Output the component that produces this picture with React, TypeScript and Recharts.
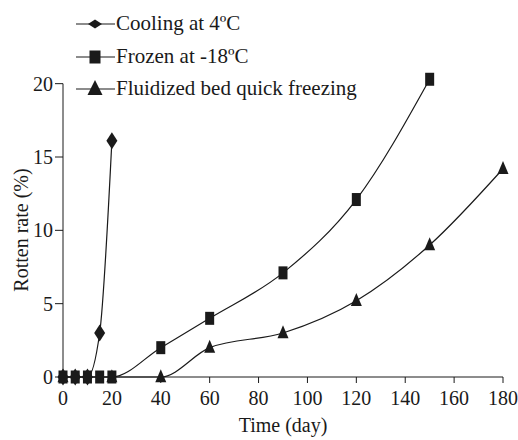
import React from 'react';
import { LineChart, Line, XAxis, YAxis, ReferenceLine, Label } from 'recharts';

// Days sampled for each storage method
const coolingDays = [0, 5, 10, 15, 20];
const coolingRate = [0, 0, 0, 3, 16.1];

const frozenDays = [0, 5, 10, 15, 20, 40, 60, 90, 120, 150];
const frozenRate = [0, 0, 0, 0, 0, 2, 4, 7.1, 12.1, 20.3];

const fluidDays = [0, 20, 40, 60, 90, 120, 150, 180];
const fluidRate = [0, 0, 0, 2, 3, 5.2, 9, 14.2];

const xTicks = [0, 20, 40, 60, 80, 100, 120, 140, 160, 180];
const yTicks = [0, 5, 10, 15, 20];

const toPoints = (days: number[], rate: number[]) =>
  days.map((d, i) => ({ day: d, rate: rate[i] }));

const coolingData = toPoints(coolingDays, coolingRate);
const frozenData = toPoints(frozenDays, frozenRate);
const fluidData = toPoints(fluidDays, fluidRate);

const FONT = '"Liberation Serif", serif';
const INK = '#1a1a1a';

// marker shapes, w/h are the full box size
const Diamond = ({ cx, cy, w = 11, h = 17 }: any) => (
  <polygon
    points={`${cx},${cy - h / 2} ${cx + w / 2},${cy} ${cx},${cy + h / 2} ${cx - w / 2},${cy}`}
    fill={INK}
  />
);

const Square = ({ cx, cy, w = 9, h = 13 }: any) => (
  <rect x={cx - w / 2} y={cy - h / 2} width={w} height={h} fill={INK} />
);

const Triangle = ({ cx, cy, w = 11, h = 13 }: any) => (
  <polygon
    points={`${cx},${cy - h * 0.6} ${cx + w / 2},${cy + h * 0.4} ${cx - w / 2},${cy + h * 0.4}`}
    fill={INK}
  />
);

const legendRows = [
  { name: 'Cooling at 4ºC', Icon: Diamond, w: 14, h: 9 },
  { name: 'Frozen at -18ºC', Icon: Square, w: 11, h: 13 },
  { name: 'Fluidized bed quick freezing', Icon: Triangle, w: 15, h: 15 },
];

const App: React.FC = () => {
  return (
    <div style={{ position: 'absolute', left: 0, top: 0, width: 518, height: 440, background: '#fff' }}>
      <LineChart
        width={518}
        height={440}
        margin={{ top: 69, right: 15, left: 13, bottom: 0 }}
      >
        <XAxis
          type="number"
          dataKey="day"
          domain={[0, 180]}
          ticks={xTicks}
          allowDuplicatedCategory={false}
          height={63}
          stroke={INK}
          tickSize={6}
          tickMargin={8}
          tick={{ fill: INK, fontSize: 20, fontFamily: FONT }}
        >
          <Label
            content={() => (
              <text x={283} y={432} textAnchor="middle" fill={INK} fontSize={20} fontFamily={FONT}>
                Time (day)
              </text>
            )}
          />
        </XAxis>
        <YAxis
          type="number"
          dataKey="rate"
          domain={[0, 21]}
          ticks={yTicks}
          width={50}
          axisLine={false}
          stroke={INK}
          tickSize={8}
          tickMargin={2}
          tick={{ fill: INK, fontSize: 20, fontFamily: FONT }}
        >
          <Label
            content={() => (
              <text
                x={28}
                y={230}
                transform="rotate(-90, 28, 230)"
                textAnchor="middle"
                fill={INK}
                fontSize={20}
                fontFamily={FONT}
              >
                Rotten rate (%)
              </text>
            )}
          />
        </YAxis>
        <ReferenceLine
          segment={[{ x: 0, y: 0 }, { x: 0, y: 20 }]}
          stroke={INK}
          ifOverflow="visible"
        />
        <Line
          data={fluidData}
          dataKey="rate"
          type="monotone"
          stroke={INK}
          strokeWidth={1.2}
          dot={<Triangle />}
          activeDot={false}
          isAnimationActive={false}
        />
        <Line
          data={coolingData}
          dataKey="rate"
          type="monotone"
          stroke={INK}
          strokeWidth={1.2}
          dot={<Diamond />}
          activeDot={false}
          isAnimationActive={false}
        />
        <Line
          data={frozenData}
          dataKey="rate"
          type="monotone"
          stroke={INK}
          strokeWidth={1.2}
          dot={<Square />}
          activeDot={false}
          isAnimationActive={false}
        />
      </LineChart>
      <div style={{ position: 'absolute', left: 76, top: 8, fontFamily: FONT, fontSize: 21, color: INK, lineHeight: 1 }}>
        {legendRows.map(({ name, Icon, w, h }) => (
          <div key={name} style={{ position: 'relative', height: 32.5 }}>
            <svg width={40} height={20} style={{ position: 'absolute', left: 0, top: 6 }}>
              <line x1={0} y1={10} x2={39} y2={10} stroke={INK} strokeWidth={1.2} />
              <Icon cx={19} cy={10} w={w} h={h} />
            </svg>
            <span style={{ position: 'absolute', left: 40, top: 5, whiteSpace: 'nowrap' }}>{name}</span>
          </div>
        ))}
      </div>
    </div>
  );
};

export default App;
